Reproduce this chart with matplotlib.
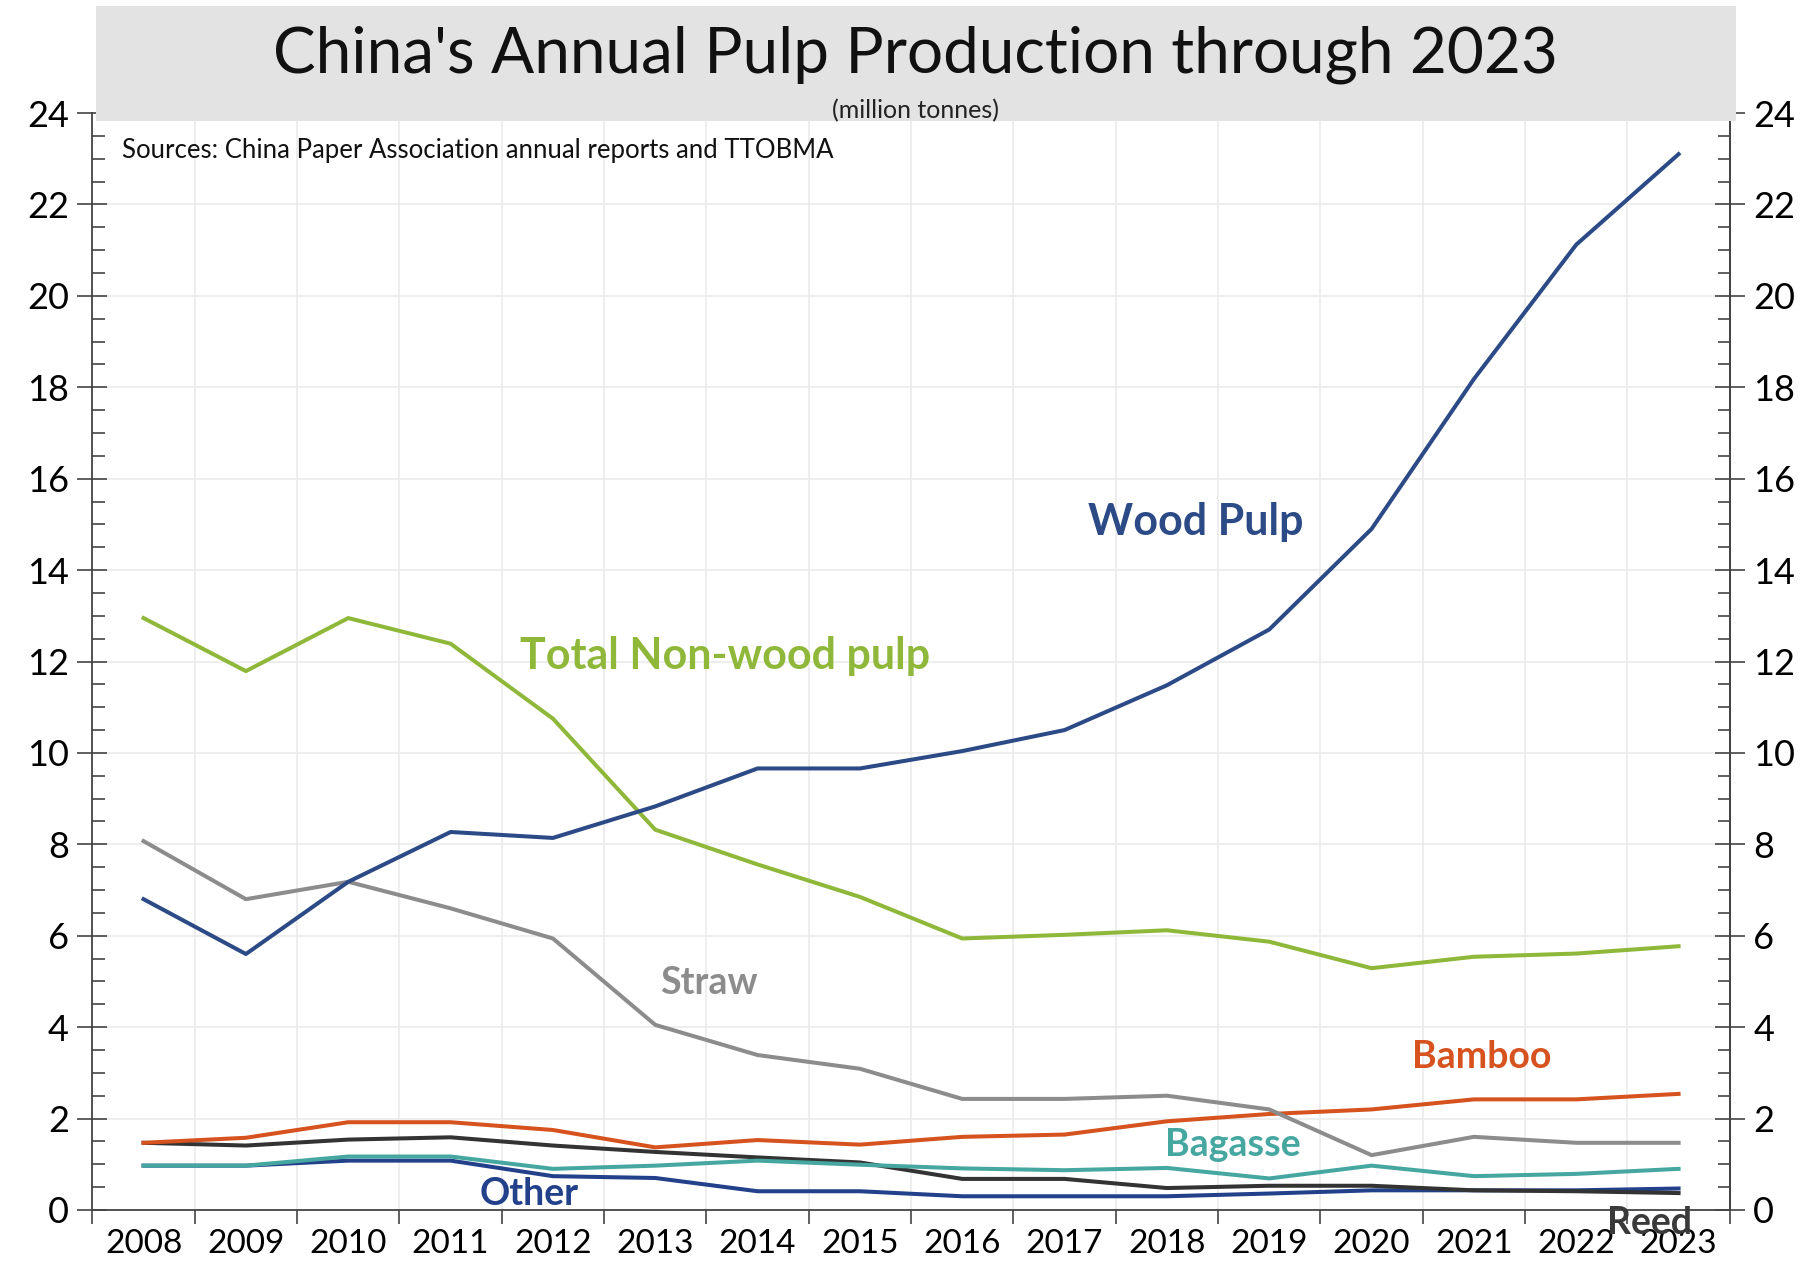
import matplotlib
matplotlib.use("Agg")
import matplotlib.pyplot as plt
from matplotlib.patches import Rectangle
from matplotlib.ticker import MultipleLocator, FixedLocator

plt.rcParams['font.family'] = ['Lato', 'DejaVu Sans']

# data (million tonnes)
years = [str(y) for y in range(2008, 2024)]
wood_pulp = [6.8, 5.6, 7.18, 8.27, 8.14, 8.83, 9.66, 9.66, 10.04, 10.5, 11.48, 12.7, 14.9, 18.18, 21.12, 23.1]
non_wood = [12.95, 11.79, 12.95, 12.39, 10.75, 8.32, 7.56, 6.85, 5.94, 6.02, 6.12, 5.87, 5.29, 5.54, 5.61, 5.77]
straw = [8.07, 6.8, 7.18, 6.6, 5.94, 4.05, 3.39, 3.09, 2.43, 2.43, 2.5, 2.2, 1.2, 1.6, 1.47, 1.47]
bamboo = [1.47, 1.58, 1.92, 1.92, 1.75, 1.37, 1.53, 1.43, 1.6, 1.65, 1.94, 2.1, 2.2, 2.42, 2.42, 2.54]
reed = [1.47, 1.41, 1.54, 1.59, 1.41, 1.27, 1.15, 1.04, 0.68, 0.68, 0.48, 0.53, 0.53, 0.43, 0.41, 0.37]
bagasse = [0.97, 0.97, 1.17, 1.17, 0.9, 0.97, 1.08, 0.99, 0.91, 0.87, 0.92, 0.69, 0.97, 0.74, 0.79, 0.9]
other = [0.97, 0.97, 1.08, 1.08, 0.74, 0.7, 0.41, 0.41, 0.3, 0.3, 0.3, 0.36, 0.43, 0.43, 0.43, 0.47]

c_wood = '#2b4a86'
c_nonwood = '#8fb83a'
c_straw = '#8c8c8c'
c_bamboo = '#d6531f'
c_reed = '#333333'
c_bagasse = '#45a7a0'
c_other = '#22418a'

fig = plt.figure(figsize=(18.12, 12.67), dpi=100)
ax = fig.add_axes([0.051, 0.045, 0.9036, 0.8658])

x = list(range(len(years)))
lw = 2.9
ax.plot(x, other, color=c_other, lw=lw)
ax.plot(x, reed, color=c_reed, lw=lw)
ax.plot(x, bagasse, color=c_bagasse, lw=lw)
ax.plot(x, bamboo, color=c_bamboo, lw=lw)
ax.plot(x, straw, color=c_straw, lw=lw)
ax.plot(x, non_wood, color=c_nonwood, lw=lw)
ax.plot(x, wood_pulp, color=c_wood, lw=lw)

ax.set_xlim(-0.5, len(years) - 0.5)
ax.set_ylim(0, 24)

# category axis: ticks between years, labels centred
ax.xaxis.set_major_locator(FixedLocator([i - 0.5 for i in range(len(years) + 1)]))
ax.xaxis.set_minor_locator(FixedLocator(x))
ax.set_xticklabels([], minor=False)
ax.set_xticklabels(years, minor=True)
ax.tick_params(axis='x', which='major', direction='out', length=10, width=1.2, color='#444444')
ax.tick_params(axis='x', which='minor', length=0, labelsize=24, pad=14)

ax.yaxis.set_major_locator(MultipleLocator(2))
ax.yaxis.set_minor_locator(MultipleLocator(0.5))
ax.tick_params(axis='y', which='major', direction='inout', length=22, width=1.2,
               color='#444444', labelsize=26, pad=6)
ax.tick_params(axis='y', which='minor', direction='in', length=9, width=1.2, color='#444444')

ax.grid(True, which='major', color='#ebebeb', lw=1.2)
ax.set_axisbelow(True)
ax.spines['top'].set_visible(False)
for s in ['left', 'right', 'bottom']:
    ax.spines[s].set_color('#444444')
    ax.spines[s].set_linewidth(1.3)

# right axis mirrors the left
ax2 = ax.twinx()
ax2.set_ylim(0, 24)
ax2.yaxis.set_major_locator(MultipleLocator(2))
ax2.yaxis.set_minor_locator(MultipleLocator(0.5))
ax2.tick_params(axis='y', which='major', direction='inout', length=22, width=1.2,
                color='#444444', labelsize=26, pad=6)
ax2.tick_params(axis='y', which='minor', direction='in', length=9, width=1.2, color='#444444')
for s in ['top', 'left', 'bottom']:
    ax2.spines[s].set_visible(False)
ax2.spines['right'].set_color('#444444')
ax2.spines['right'].set_linewidth(1.3)

# series labels
big, small = 31, 27
ax.text(10.28, 15.05, 'Wood Pulp', color=c_wood, fontsize=big, fontweight='bold', ha='center', va='center')
ax.text(5.68, 12.11, 'Total Non-wood pulp', color=c_nonwood, fontsize=big, fontweight='bold', ha='center', va='center')
ax.text(5.52, 4.96, 'Straw', color=c_straw, fontsize=small, fontweight='bold', ha='center', va='center')
ax.text(13.08, 3.34, 'Bamboo', color=c_bamboo, fontsize=small, fontweight='bold', ha='center', va='center')
ax.text(10.64, 1.42, 'Bagasse', color=c_bagasse, fontsize=small, fontweight='bold', ha='center', va='center')
ax.text(3.77, 0.35, 'Other', color=c_other, fontsize=small, fontweight='bold', ha='center', va='center')
ax.text(14.72, -0.28, 'Reed', color='#3a3a3a', fontsize=small, fontweight='bold', ha='center', va='center',
        clip_on=False, zorder=10)

# title banner
fig.patches.append(Rectangle((0.053, 0.9045), 0.905, 0.091, transform=fig.transFigure,
                             facecolor='#e3e3e3', edgecolor='none', zorder=1))
fig.text(0.505, 0.957, "China's Annual Pulp Production through 2023", fontsize=46,
         ha='center', va='center', color='#111111')
fig.text(0.505, 0.913, '(million tonnes)', fontsize=18, ha='center', va='center', color='#222222')
fig.text(0.0673, 0.8816, 'Sources: China Paper Association annual reports and TTOBMA', fontsize=18.5,
         ha='left', va='center', color='#111111')

fig.savefig('out.png', dpi=100)
